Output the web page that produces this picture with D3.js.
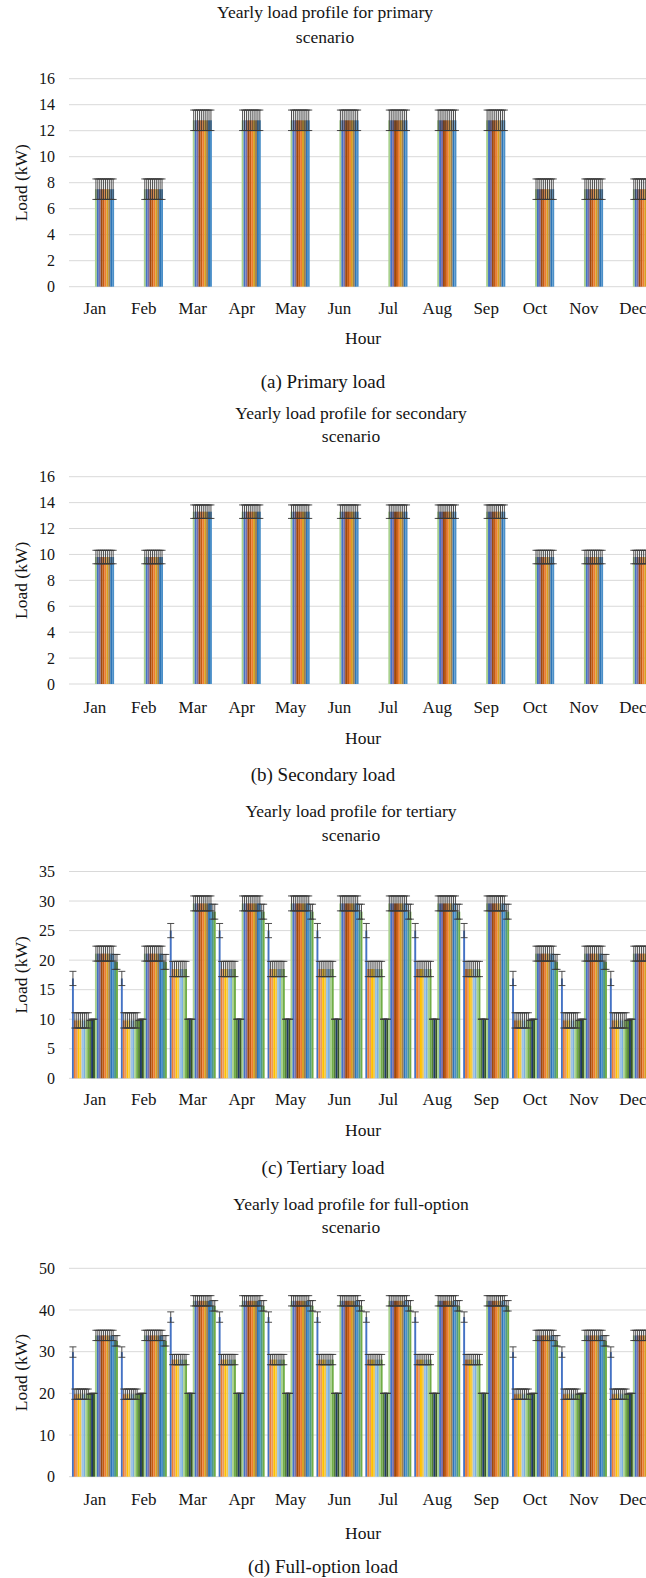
<!DOCTYPE html>
<html><head><meta charset="utf-8">
<script src="https://cdn.jsdelivr.net/npm/d3@7"></script>
<style>
html,body{margin:0;padding:0;background:#fff;}
svg{display:block;}
text{font-family:"Liberation Serif","DejaVu Serif",serif;fill:#141414;}
</style></head>
<body>
<svg id="chart" width="646" height="1578"></svg>
<script>
// ---------- DATA ----------
const months = ["Jan","Feb","Mar","Apr","May","Jun","Jul","Aug","Sep","Oct","Nov","Dec"];
const monthSeason = ["W","W","S","S","S","S","S","S","S","W","W","W"];
const hours = [0,1,2,3,4,5,6,7,8,9,10,11,12,13,14,15,16,17,18,19,20,21,22,23];

// hourly load (kW) – winter months (Jan, Feb, Oct, Nov, Dec) and summer months (Mar–Sep)
const primaryWinter   = [0,0,0,0,0,0,0,0,0,0,0,0,7.5,7.5,7.5,7.5,7.5,7.5,7.5,7.5,7.5,7.5,0,0];
const primarySummer   = [0,0,0,0,0,0,0,0,0,0,0,0,12.8,12.8,12.8,12.8,12.8,12.8,12.8,12.8,12.8,12.8,0,0];
const secondaryWinter = [0,0,0,0,0,0,0,0,0,0,0,0,9.8,9.8,9.8,9.8,9.8,9.8,9.8,9.8,9.8,9.8,0,0];
const secondarySummer = [0,0,0,0,0,0,0,0,0,0,0,0,13.3,13.3,13.3,13.3,13.3,13.3,13.3,13.3,13.3,13.3,0,0];
const tertiaryWinter  = [16.9,9.8,9.8,9.8,9.8,9.8,9.8,9.8,9.8,9.8,10,10,21.1,21.1,21.1,21.1,21.1,21.1,21.1,21.1,21.1,21.1,19.7,19.7];
const tertiarySummer  = [25.0,18.5,18.5,18.5,18.5,18.5,18.5,18.5,18.5,10,10,10,29.6,29.6,29.6,29.6,29.6,29.6,29.6,29.6,29.6,29.6,28.2,28.2];
const fullWinter      = [29.9,19.8,19.8,19.8,19.8,19.8,19.8,19.8,19.8,19.8,20,20,33.9,33.9,33.9,33.9,33.9,33.9,33.9,33.9,33.9,33.9,32.6,32.6];
const fullSummer      = [38.3,28.1,28.1,28.1,28.1,28.1,28.1,28.1,28.1,20,20,20,42.2,42.2,42.2,42.2,42.2,42.2,42.2,42.2,42.2,42.2,41.0,41.0];

const ticksPrimary  = [0,2,4,6,8,10,12,14,16];
const ticksTertiary = [0,5,10,15,20,25,30,35];
const ticksFull     = [0,10,20,30,40,50];

const titles = ["Yearly load profile for primary","Yearly load profile for secondary","Yearly load profile for tertiary","Yearly load profile for full-option"];
const captions = ["(a) Primary load","(b) Secondary load","(c) Tertiary load","(d) Full-option load"];

const hourColors = ["#4472C4","#ED7D31","#E59A62","#FFC000","#F2C84B","#9DC3E6","#7CAFDD","#A9D18E","#70AD47","#548235","#1F3864","#375623",
                    "#A9D18E","#4472C4","#7A6FA8","#9E480E","#C55A11","#ED7D31","#D6A021","#A08050","#2E75B6","#4A8FC8","#4E9A86","#70AD47"];

// ---------- LAYOUT ----------
const SERIF = '"Liberation Serif","DejaVu Serif",serif';
const panels = [
  {title:titles[0], caption:captions[0], win:primaryWinter, sum:primarySummer, ticks:ticksPrimary, titleX:325,
   t1:18, t2:43, top:78.7, bottom:286.7, monthY:314, hourY:344, capY:388},
  {title:titles[1], caption:captions[1], win:secondaryWinter, sum:secondarySummer, ticks:ticksPrimary, titleX:351,
   t1:418.6, t2:441.5, top:476.7, bottom:684, monthY:713, hourY:743.7, capY:781},
  {title:titles[2], caption:captions[2], win:tertiaryWinter, sum:tertiarySummer, ticks:ticksTertiary, titleX:351,
   t1:817, t2:840.5, top:871.5, bottom:1078.3, monthY:1105, hourY:1136, capY:1174},
  {title:titles[3], caption:captions[3], win:fullWinter, sum:fullSummer, ticks:ticksFull, titleX:351,
   t1:1209.7, t2:1232.5, top:1268.3, bottom:1476.7, monthY:1504.5, hourY:1539, capY:1572.5}
];

const svg = d3.select("#chart");
const plotLeft = 69, plotRight = 662;
const hourX = 363, captionX = 323;

const x = d3.scaleBand().domain(months).range([70.5, 657.3]).paddingInner(0.06).paddingOuter(0.03);
const xh = d3.scaleBand().domain(hours).range([0, x.bandwidth()]);

function label(g, x0, y0, size, txt) {
  return g.append("text").attr("x", x0).attr("y", y0).attr("text-anchor", "middle")
    .style("font-family", SERIF).style("font-size", size + "px").attr("fill", "#141414").text(txt);
}

panels.forEach(p => {
  const yMax = p.ticks[p.ticks.length-1];
  const y = d3.scaleLinear().domain([0, yMax]).range([p.bottom, p.top]);
  const g = svg.append("g");

  // gridlines
  g.append("g").selectAll("line").data(p.ticks).join("line")
    .attr("x1", plotLeft).attr("x2", plotRight)
    .attr("y1", d => y(d)).attr("y2", d => y(d))
    .attr("stroke", "#d9d9d9").attr("stroke-width", 1);

  // y axis labels
  const ya = g.append("g").attr("transform", `translate(${plotLeft},0)`)
    .call(d3.axisLeft(y).tickValues(p.ticks).tickSize(0).tickPadding(14).tickFormat(d3.format("d")));
  ya.select(".domain").remove();
  ya.attr("font-family", null);
  ya.selectAll("text").style("font-family", SERIF).style("font-size", "16px").attr("fill", "#141414");

  const valueOf = (mi, h) => (monthSeason[mi] === "W" ? p.win : p.sum)[h];
  // Excel "Standard Error" error bars: one amount per hourly series across the 12 months
  const se = hours.map(h => {
    const vals = months.map((m, mi) => valueOf(mi, h));
    const n = vals.length, mean = d3.mean(vals);
    return Math.sqrt(d3.sum(vals, v => (v - mean) ** 2) / (n * (n - 1)));
  });

  const data = [];
  months.forEach((m, mi) => hours.forEach(h => data.push({m, mi, h, v: valueOf(mi, h)})));
  const ed = data.filter(d => d.v > 0);

  g.append("g").selectAll("rect").data(ed).join("rect")
    .attr("x", d => x(d.m) + xh(d.h))
    .attr("width", xh.bandwidth())
    .attr("y", d => y(d.v))
    .attr("height", d => y(0) - y(d.v))
    .attr("fill", d => hourColors[d.h]);

  // error bars
  const eb = g.append("g").attr("stroke", "#3a3a3a").attr("stroke-width", 0.9).attr("fill", "none");
  const cx = d => x(d.m) + xh(d.h) + xh.bandwidth() / 2;
  eb.selectAll("line.v").data(ed).join("line").attr("class", "v")
    .attr("x1", cx).attr("x2", cx)
    .attr("y1", d => y(d.v + se[d.h])).attr("y2", d => y(d.v - se[d.h]));
  eb.selectAll("line.t").data(ed).join("line").attr("class", "t")
    .attr("x1", d => cx(d) - 3.5).attr("x2", d => cx(d) + 3.5)
    .attr("y1", d => y(d.v + se[d.h])).attr("y2", d => y(d.v + se[d.h]));
  eb.selectAll("line.b").data(ed).join("line").attr("class", "b")
    .attr("x1", d => cx(d) - 3.5).attr("x2", d => cx(d) + 3.5)
    .attr("y1", d => y(d.v - se[d.h])).attr("y2", d => y(d.v - se[d.h]));

  // month axis
  const xa = g.append("g").attr("transform", `translate(0,${p.monthY})`)
    .call(d3.axisBottom(x).tickSize(0).tickPadding(0));
  xa.select(".domain").remove();
  xa.attr("font-family", null);
  xa.selectAll("text").attr("dy", null).attr("y", 0)
    .style("font-family", SERIF).style("font-size", "17px").attr("fill", "#141414");

  // titles and labels
  label(g, p.titleX, p.t1, 17.5, p.title);
  label(g, p.titleX, p.t2, 17.5, "scenario");
  label(g, hourX, p.hourY, 17.5, "Hour");
  label(g, captionX, p.capY, 19, p.caption);
  g.append("text").attr("transform", `translate(27,${(p.top + p.bottom) / 2}) rotate(-90)`)
    .attr("text-anchor", "middle").style("font-family", SERIF).style("font-size", "17.5px")
    .attr("fill", "#141414").text("Load (kW)");
});
</script>
</body></html>
